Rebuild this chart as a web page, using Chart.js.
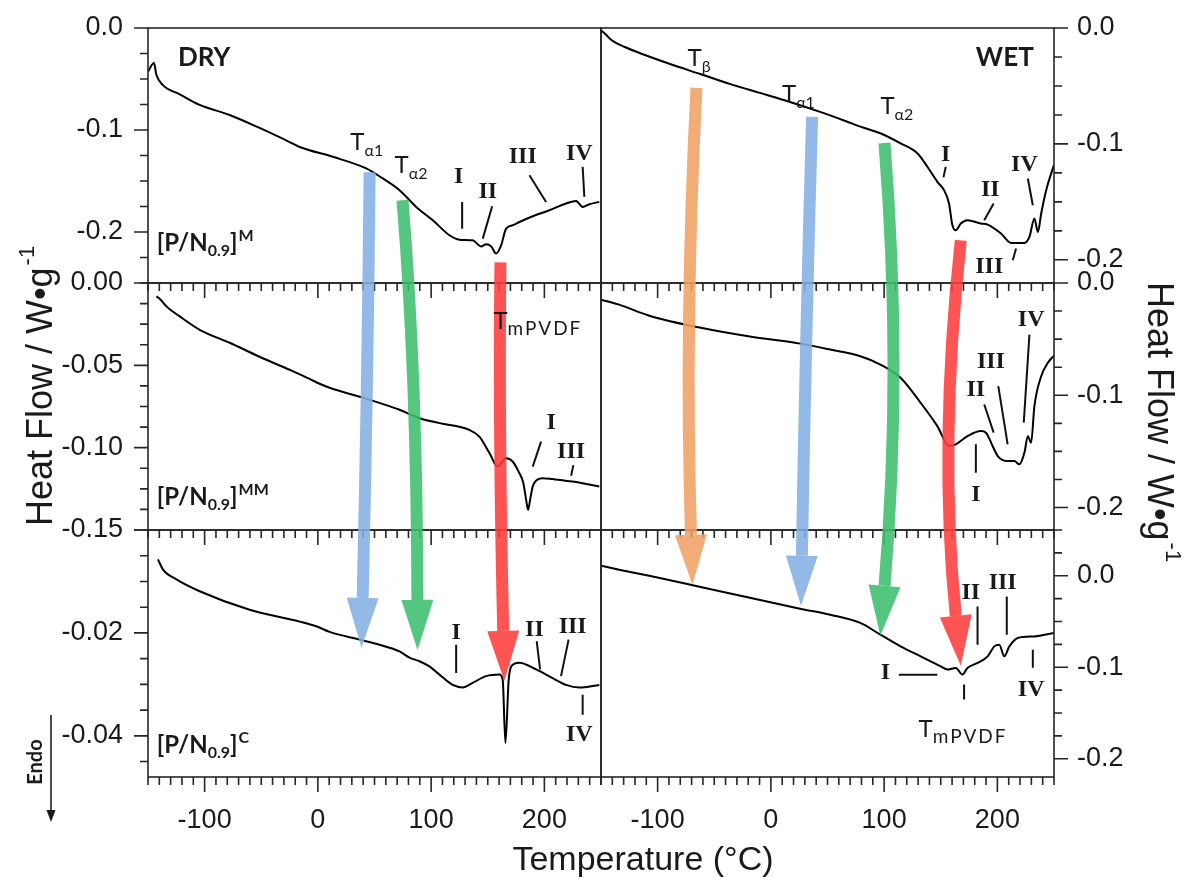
<!DOCTYPE html>
<html>
<head>
<meta charset="utf-8">
<script src="https://cdn.jsdelivr.net/npm/chart.js@4/dist/chart.umd.min.js"></script>
<style>
html,body{margin:0;padding:0;background:#fff;}
#wrap{position:relative;width:1195px;height:878px;}
canvas{display:block;}
</style>
</head>
<body>
<div id="wrap"><canvas id="c" width="1195" height="878"></canvas></div>
<script>
// ---------------- DATA ----------------
// DRY, [P/N0.9]M
const dryM_T  = [-150, -144.7, -142.6, -137, -122, -104.4, -77.9, -51.5, -25, -16.1, 13.2, 42.7, 57.3, 72.1, 86.8, 101.5, 116.2, 125, 136.7, 144.2, 148.6, 153, 157.4, 161.8, 166.2, 172, 178, 189.7, 204.4, 219.1, 228, 233.8, 239.7, 248.5];
const dryM_HF = [-0.0427, -0.0344, -0.0459, -0.0558, -0.0650, -0.0754, -0.0853, -0.098, -0.1118, -0.1167, -0.1263, -0.1377, -0.1475, -0.159, -0.1754, -0.1885, -0.2032, -0.2075, -0.2082, -0.2141, -0.2121, -0.2141, -0.2212, -0.2131, -0.1967, -0.1934, -0.1902, -0.1846, -0.1787, -0.1721, -0.1695, -0.1754, -0.1728, -0.1705];
// DRY, [P/N0.9]MM
const dryMM_T  = [-142.6, -139.7, -133.7, -122, -104.4, -77.9, -51.5, -25, -7.3, 1.5, 10.3, 45.6, 72.1, 89.7, 107.4, 133.8, 142.6, 151.5, 158.8, 166.2, 172, 177.9, 181.4, 183.9, 185.6, 187.4, 189.7, 192.7, 198.5, 207.3, 225, 248.5];
const dryMM_HF = [-0.0081, -0.0095, -0.0142, -0.0203, -0.0284, -0.0363, -0.0448, -0.0527, -0.0582, -0.0612, -0.0636, -0.0709, -0.077, -0.0821, -0.0851, -0.0892, -0.0933, -0.1033, -0.1115, -0.1064, -0.1084, -0.1155, -0.1214, -0.1317, -0.1378, -0.1317, -0.1236, -0.12, -0.1185, -0.1191, -0.1206, -0.1236];
// DRY, [P/N0.9]C
const dryC_T  = [-141.2, -136.7, -124.9, -104.4, -60.3, -16.1, -0.3, 10.3, 36.8, 54.4, 72.1, 80.9, 89.7, 98.5, 107.4, 119.1, 127.9, 136.7, 148.6, 160.3, 163.2, 165.6, 168.5, 172, 177.9, 192.7, 207.3, 219.1, 230.9, 248.5];
const dryC_HF = [-0.0057, -0.0077, -0.0096, -0.0119, -0.0155, -0.0178, -0.0188, -0.0198, -0.0213, -0.0223, -0.0236, -0.0248, -0.0255, -0.0265, -0.0281, -0.0301, -0.0306, -0.0297, -0.0284, -0.0281, -0.0291, -0.0414, -0.0291, -0.0262, -0.0258, -0.0271, -0.0288, -0.0301, -0.0306, -0.0301];
// WET, [P/N0.9]M
const wetM_T  = [-150, -146.4, -141.1, -129.5, -111.8, -89.6, -63, -36.4, -9.8, 16.9, 43.5, 65.7, 79, 96.7, 114.5, 129.3, 138.2, 147, 152.9, 157.3, 160.3, 163.3, 167.7, 173.6, 185.4, 191.4, 203.2, 212.1, 223.9, 228.3, 232.7, 235.8, 238.7, 243.1, 250];
const wetM_HF = [-0.002, -0.0049, -0.0101, -0.0162, -0.0231, -0.0309, -0.0395, -0.0482, -0.056, -0.0638, -0.0724, -0.0802, -0.0851, -0.0908, -0.0995, -0.1081, -0.1197, -0.1327, -0.1399, -0.1514, -0.1702, -0.1745, -0.1687, -0.1658, -0.1687, -0.1696, -0.1773, -0.1855, -0.1855, -0.1803, -0.1644, -0.176, -0.16, -0.1399, -0.118];
// WET, [P/N0.9]MM
const wetMM_T  = [-150, -134, -107.4, -63, -18.6, 25.7, 52.4, 79, 96.7, 114.5, 132.2, 147, 157.3, 163.3, 173.6, 185.4, 189.9, 195.8, 200.3, 209.1, 215, 219.4, 223.9, 226.9, 229.8, 232.7, 238.7, 244.6, 250];
const wetMM_HF = [-0.0148, -0.0193, -0.0291, -0.0397, -0.0477, -0.054, -0.0593, -0.0652, -0.0726, -0.0844, -0.1067, -0.1275, -0.1452, -0.1437, -0.1364, -0.1319, -0.1333, -0.1452, -0.1541, -0.1586, -0.1586, -0.1615, -0.1511, -0.1364, -0.1422, -0.1097, -0.083, -0.0711, -0.0646];
// WET, [P/N0.9]C
const wetC_T  = [-150, -134, -107.4, -63, -18.6, 25.7, 52.4, 79, 96.7, 114.5, 132.2, 150, 155.9, 163.3, 169.2, 173.6, 182.5, 191.4, 197.3, 201.7, 206.1, 210.6, 218, 232.7, 250];
const wetC_HF = [0.0109, 0.0066, 0, -0.012, -0.024, -0.036, -0.0426, -0.0516, -0.0644, -0.0772, -0.0881, -0.099, -0.1026, -0.1008, -0.1081, -0.1008, -0.0953, -0.0881, -0.0772, -0.0753, -0.0881, -0.0772, -0.068, -0.0663, -0.0626];

// tick labels
const xTickLabels = [-100, 0, 100, 200];

// annotations (panel, value positions)
const romanLabels = [
  ['TL','I',124.4,-0.1443], ['TL','II',150,-0.159], ['TL','III',180.9,-0.1246], ['TL','IV',230.9,-0.1213],
  ['ML','I',205.9,-0.0841], ['ML','III',223.6,-0.1013],
  ['BL','I',122.1,-0.0197], ['BL','II',191.2,-0.019], ['BL','III',225,-0.0184], ['BL','IV',230.9,-0.0395],
  ['TR','I',154.4,-0.1081], ['TR','II',193.7,-0.1384], ['TR','III',192.8,-0.2048], ['TR','IV',223.9,-0.1163],
  ['MR','IV',229.8,-0.0311], ['MR','III',194.3,-0.0682], ['MR','II',181,-0.0933], ['MR','I',181,-0.1867],
  ['BR','II',176.6,-0.0171], ['BR','III',204.7,-0.0062], ['BR','I',101.2,-0.1045], ['BR','IV',229.8,-0.1226]
];
const leaderLines = [
  ['TL',127.4,-0.1705,127.4,-0.1967], ['TL',153.9,-0.1747,145.6,-0.2065], ['TL',186.8,-0.1443,201.5,-0.1705], ['TL',233.8,-0.1361,235.3,-0.1656],
  ['ML',197.1,-0.0963,189.7,-0.1115], ['ML',225.6,-0.1106,223.6,-0.1171],
  ['BL',122.1,-0.0223,122.1,-0.0278], ['BL',193.2,-0.0216,196.2,-0.0271], ['BL',221.4,-0.0213,214.7,-0.0284], ['BL',233.8,-0.032,233.8,-0.0359],
  ['TR',154.4,-0.1197,152.4,-0.1289], ['TR',196.7,-0.1514,188.4,-0.1658], ['TR',216.5,-0.1903,213.6,-0.2004], ['TR',226.9,-0.1298,231.3,-0.1529],
  ['MR',228.3,-0.046,223.3,-0.1244], ['MR',200.8,-0.0919,209.1,-0.1437], ['MR',188.4,-0.1082,196.7,-0.1333], ['MR',181,-0.1437,181,-0.1689],
  ['BR',182.5,-0.0335,182.5,-0.0753], ['BR',208.3,-0.0226,208.3,-0.0644], ['BR',113,-0.1081,147,-0.1081], ['BR',231.3,-0.0808,231.3,-0.1007], ['BR',170.6,-0.119,170.6,-0.1354]
];
const transitionLabels = [
  ['TL',28.6,-0.1197,'α1'], ['TL',67.7,-0.1426,'α2'], ['ML',155.0,-0.0278,'mPVDF'],
  ['TR',-73.6,-0.0326,'β'], ['TR',9.8,-0.0638,'α1'], ['TR',96.7,-0.0741,'α2'], ['BR',130.4,-0.1758,'mPVDF']
];
const sampleLabels = [ ['TL',-142.3,-0.219,'M'], ['ML',-142.3,-0.1348,'MM'], ['BL',-142.3,-0.0433,'C'] ];
const conditionLabels = [ ['TL',-123.6,-0.0371,'DRY'], ['TR',181,-0.0332,'WET'] ];
const arrowPaths = [
  ['rgba(132,176,226,0.88)', [['TL',45.7,-0.1414],['ML',43,-0.071],['BL',38.5,-0.0229]]],
  ['rgba(60,190,110,0.88)',  [['TL',74.7,-0.1688],['ML',84.4,-0.071],['BL',88,-0.0233]]],
  ['rgba(255,60,60,0.88)',   [['TL',161.2,-0.2298],['ML',161.2,-0.1013],['BL',164.7,-0.0293]]],
  ['rgba(240,160,100,0.88)', [['TR',-65.7,-0.0517],['MR',-71.9,-0.0415],['BR',-69.2,-0.0098]]],
  ['rgba(132,176,226,0.88)', [['TR',36.4,-0.0767],['MR',31.1,-0.0593],['BR',26.6,-0.0328]]],
  ['rgba(60,190,110,0.88)',  [['TR',100.3,-0.0993],['MR',107.4,-0.086],['BR',96.7,-0.0655]]],
  ['rgba(255,60,60,0.88)',   [['TR',167.7,-0.1832],['MR',157.9,-0.1482],['BR',167.7,-0.0983]]]
];

// ---------------- CHART ----------------
const FONT_SANS = '"Liberation Sans", Arial, sans-serif';
const FONT_LBL = 'Lato, "Open Sans", "DejaVu Sans", sans-serif';
const FONT_SERIF = '"Liberation Serif", "Times New Roman", serif';
const INK = '#1a1a1a';

const panelAxes = {TL:['xL','yTL'], ML:['xL','yML'], BL:['xL','yBL'], TR:['xR','yTR'], MR:['xR','yMR'], BR:['xR','yBR']};
const panelTicks = [
  ['TL','left',0.1,0.025], ['ML','left',0.05,0.0125], ['BL','left',0.02,0.005],
  ['TR','right',0.1,0.025], ['MR','right',0.1,0.025], ['BR','right',0.1,0.025]
];

function series(T, HF){ return T.map((t,i)=>({x:t, y:HF[i]})); }
function ds(T, HF, xa, ya){
  return {data: series(T,HF), xAxisID: xa, yAxisID: ya, showLine: true, borderColor: '#000', borderWidth: 2,
          pointRadius: 0, fill: false, cubicInterpolationMode: 'monotone'};
}

function yAxis(pos, weight, stackWeight, min, max, step, dec, hideZero){
  return {
    type: 'linear', position: pos, stack: 'col', stackWeight: stackWeight, weight: weight,
    min: min, max: max,
    grid: {display: false, drawTicks: false}, border: {display: false},
    ticks: {stepSize: step, includeBounds: false, autoSkip: false, padding: pos === 'left' ? 25 : 23,
      color: INK, font: {family: FONT_SANS, size: 27},
      callback: function(v){ if (Math.abs(v) < 1e-9) v = 0; if (hideZero && v === 0) return ''; return Number(v).toFixed(dec); }},
    afterFit: function(s){ s.width = pos === 'left' ? 148 : 141; s.paddingTop = 0; s.paddingBottom = 0; }
  };
}
function xAxis(weight){
  return {
    type: 'linear', position: 'bottom', stack: 'row', stackWeight: 1, weight: weight,
    min: -150, max: 250,
    grid: {display: false, drawTicks: false}, border: {display: false},
    afterBuildTicks: function(s){ s.ticks = xTickLabels.map(v => ({value: v})); },
    ticks: {autoSkip: false, maxRotation: 0, padding: 27, color: INK, font: {family: FONT_SANS, size: 27},
      callback: v => String(v)},
    afterFit: function(s){ s.height = 101; s.paddingLeft = 0; s.paddingRight = 0; }
  };
}

function P(chart, panel, T, V){
  const a = panelAxes[panel];
  return [chart.scales[a[0]].getPixelForValue(T), chart.scales[a[1]].getPixelForValue(V)];
}

const framePlugin = {
  id: 'frames',
  afterDatasetsDraw(chart){
    const ctx = chart.ctx;
    ctx.save();
    ctx.strokeStyle = '#262626';
    ctx.lineWidth = 1.6;
    for (const [panel, side, major, minor] of panelTicks){
      const xs = chart.scales[panelAxes[panel][0]], ys = chart.scales[panelAxes[panel][1]];
      ctx.strokeRect(xs.left, ys.top, xs.right - xs.left, ys.bottom - ys.top);
      const ratio = Math.round(major / minor);
      const n0 = Math.ceil(ys.min / minor - 1e-6), n1 = Math.floor(ys.max / minor + 1e-6);
      ctx.beginPath();
      for (let n = n0; n <= n1; n++){
        const py = ys.getPixelForValue(n * minor);
        const len = (n % ratio === 0) ? 14 : 8;
        if (side === 'left'){ ctx.moveTo(xs.left, py); ctx.lineTo(xs.left - len, py); }
        else { ctx.moveTo(xs.right, py); ctx.lineTo(xs.right + len, py); }
      }
      for (let t = -150; t <= 250; t += 10){
        const px = xs.getPixelForValue(t);
        const len = (t % 100 === 0) ? 15 : 8;
        ctx.moveTo(px, ys.bottom); ctx.lineTo(px, ys.bottom + len);
      }
      ctx.stroke();
    }
    // arrows
    for (const [color, pts] of arrowPaths){
      const S = P(chart, ...pts[0]), M = P(chart, ...pts[1]), E = P(chart, ...pts[2]);
      const C = [2*M[0] - (S[0]+E[0])/2, 2*M[1] - (S[1]+E[1])/2];
      let dx = E[0]-C[0], dy = E[1]-C[1]; const dl = Math.hypot(dx,dy); dx/=dl; dy/=dl;
      const L = 50, W = 16;
      const B = [E[0]-dx*L, E[1]-dy*L];
      ctx.strokeStyle = color; ctx.fillStyle = color;
      ctx.lineWidth = 12; ctx.lineCap = 'butt';
      ctx.beginPath(); ctx.moveTo(S[0], S[1]); ctx.quadraticCurveTo(C[0], C[1], B[0], B[1]); ctx.stroke();
      ctx.beginPath();
      ctx.moveTo(E[0], E[1]);
      ctx.lineTo(B[0] - dy*W, B[1] + dx*W);
      ctx.lineTo(B[0] + dy*W, B[1] - dx*W);
      ctx.closePath(); ctx.fill();
    }
    ctx.restore();
  },
  afterDraw(chart){
    const ctx = chart.ctx;
    ctx.save();
    ctx.fillStyle = INK; ctx.strokeStyle = '#111'; ctx.lineWidth = 2;
    // roman numerals
    ctx.font = 'bold 24px ' + FONT_SERIF; ctx.textAlign = 'center'; ctx.textBaseline = 'alphabetic';
    for (const [panel, txt, T, V] of romanLabels){ const p = P(chart, panel, T, V); ctx.fillText(txt, p[0], p[1] + 8); }
    ctx.beginPath();
    for (const [panel, T1, V1, T2, V2] of leaderLines){
      const a = P(chart, panel, T1, V1), b = P(chart, panel, T2, V2);
      ctx.moveTo(a[0], a[1]); ctx.lineTo(b[0], b[1]);
    }
    ctx.stroke();
    ctx.textAlign = 'left';
    // transition temperatures
    for (const [panel, T, V, sub] of transitionLabels){
      const p = P(chart, panel, T, V);
      ctx.font = '24px ' + FONT_LBL; ctx.fillText('T', p[0], p[1]);
      const w = ctx.measureText('T').width;
      if (sub.length > 2){ ctx.font = '19px ' + FONT_LBL; ctx.letterSpacing = '2px'; }
      else { ctx.font = '16px ' + FONT_LBL; ctx.letterSpacing = '0px'; }
      ctx.fillText(sub, p[0] + w, p[1] + 6);
      ctx.letterSpacing = '0px';
    }
    // sample labels [P/N0.9]X
    for (const [panel, T, V, sup] of sampleLabels){
      const p = P(chart, panel, T, V); let x = p[0];
      ctx.font = 'bold 24px ' + FONT_LBL; ctx.fillText('[P/N', x, p[1]); x += ctx.measureText('[P/N').width;
      ctx.font = 'bold 16px ' + FONT_LBL; ctx.fillText('0.9', x, p[1] + 5); x += ctx.measureText('0.9').width;
      ctx.font = 'bold 24px ' + FONT_LBL; ctx.fillText(']', x, p[1]); x += ctx.measureText(']').width + 1;
      ctx.font = 'bold 16px ' + FONT_LBL; ctx.fillText(sup, x, p[1] - 10);
    }
    // DRY / WET
    ctx.font = 'bold 26px ' + FONT_LBL;
    for (const [panel, T, V, txt] of conditionLabels){ const p = P(chart, panel, T, V); ctx.fillText(txt, p[0], p[1]); }
    // axis titles
    ctx.font = '34px ' + FONT_SANS; ctx.textAlign = 'center';
    ctx.fillText('Temperature (°C)', 643, 870);
    function yTitle(x, y, ang){
      ctx.save(); ctx.translate(x, y); ctx.rotate(ang);
      ctx.font = '36px ' + FONT_SANS; const mw = ctx.measureText('Heat Flow / W•g').width;
      ctx.font = '22px ' + FONT_SANS; const sw = ctx.measureText('-1').width;
      const x0 = -(mw + sw + 2) / 2;
      ctx.textAlign = 'left';
      ctx.font = '36px ' + FONT_SANS; ctx.fillText('Heat Flow / W•g', x0, 0);
      ctx.font = '22px ' + FONT_SANS; ctx.fillText('-1', x0 + mw + 2, -18);
      ctx.restore();
    }
    yTitle(52, 386, -Math.PI/2);
    yTitle(1148, 422, Math.PI/2);
    // Endo
    ctx.save(); ctx.translate(42, 762); ctx.rotate(-Math.PI/2);
    ctx.font = 'bold 20px ' + FONT_LBL; ctx.textAlign = 'center'; ctx.fillText('Endo', 0, 0);
    ctx.restore();
    ctx.lineWidth = 1.5; ctx.beginPath(); ctx.moveTo(51, 715); ctx.lineTo(51, 812); ctx.stroke();
    ctx.beginPath(); ctx.moveTo(51, 822); ctx.lineTo(46.5, 810); ctx.lineTo(55.5, 810); ctx.closePath(); ctx.fill();
    ctx.restore();
  }
};

new Chart(document.getElementById('c'), {
  type: 'scatter',
  data: {
    datasets: [
      ds(dryM_T, dryM_HF, 'xL', 'yTL'),
      ds(dryMM_T, dryMM_HF, 'xL', 'yML'),
      ds(dryC_T, dryC_HF, 'xL', 'yBL'),
      ds(wetM_T, wetM_HF, 'xR', 'yTR'),
      ds(wetMM_T, wetMM_HF, 'xR', 'yMR'),
      ds(wetC_T, wetC_HF, 'xR', 'yBR')
    ]
  },
  options: {
    responsive: false, devicePixelRatio: 1, animation: false,
    layout: {padding: {top: 28, left: 0, right: 0, bottom: 0}},
    plugins: {legend: {display: false}, tooltip: {enabled: false}},
    scales: {
      xL: xAxis(1), xR: xAxis(2),
      yTL: yAxis('left', 3, 255, -0.25, 0, 0.1, 1, false),
      yML: yAxis('left', 2, 247, -0.15, 0, 0.05, 2, false),
      yBL: yAxis('left', 1, 247, -0.048, 0, 0.02, 2, true),
      yTR: yAxis('right', 1, 255, -0.22, 0, 0.1, 1, false),
      yMR: yAxis('right', 2, 247, -0.22, 0, 0.1, 1, false),
      yBR: yAxis('right', 3, 247, -0.22, 0.05, 0.1, 1, false)
    }
  },
  plugins: [framePlugin]
});
</script>
</body>
</html>
